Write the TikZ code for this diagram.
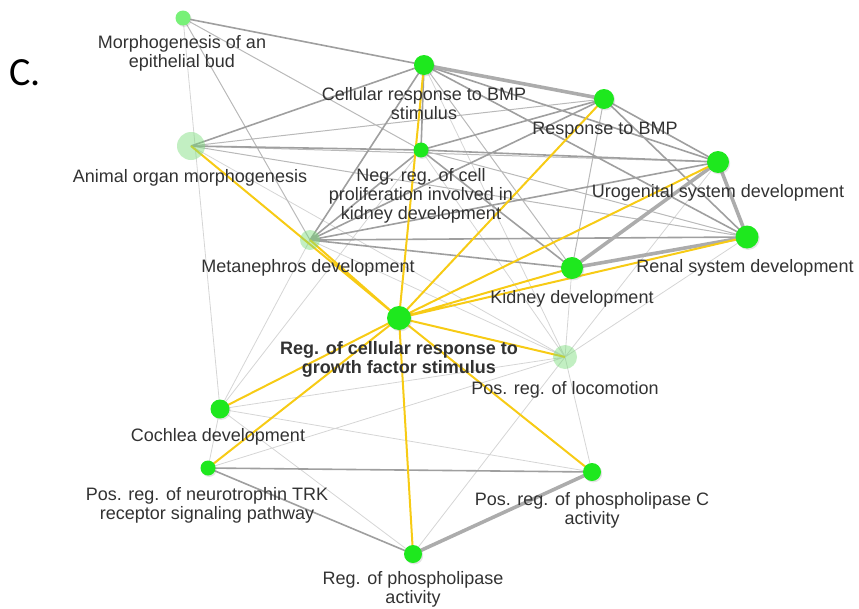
\documentclass[tikz,border=0pt]{standalone}
\usepackage{fontspec}
\setmainfont{Liberation Sans}
\newfontfamily\panelfont{Carlito}
\usepackage{xcolor}
\usetikzlibrary{backgrounds, shadows}

\definecolor{termgreen}{RGB}{30,232,30}
\definecolor{palegreen}{RGB}{120,220,120}
\definecolor{linkyellow}{RGB}{247,203,21}
\definecolor{labelgray}{RGB}{50,50,50}

\begin{document}
\begin{tikzpicture}[x=1pt, y=-1pt,
  term/.style={circle, fill=termgreen, inner sep=0pt,
    drop shadow={opacity=0.22, shadow xshift=1.2pt, shadow yshift=-1.4pt}},
  faded/.style={circle, fill=palegreen, fill opacity=0.45, inner sep=0pt},
  lbl/.style={align=center, text=labelgray, inner sep=0pt,
    font=\fontsize{18}{19}\selectfont},
  yedge/.style={draw=linkyellow, line width=2pt},
  tedge/.style={draw=gray!65, line width=3.6pt},
  medge/.style={draw=gray!75, line width=1.6pt},
  sedge/.style={draw=gray!55, line width=1pt},
  fedge/.style={draw=gray!33, line width=0.8pt}]
  \useasboundingbox (0,0) rectangle (859,608);

  %% panel letter
  \node[font=\panelfont\fontsize{40}{40}\selectfont, anchor=base west, inner sep=0pt]
    (panel) at (9,85) {C.};

  %% terms
  \node[term, fill=termgreen!60, minimum size=15pt] (meb) at (183,18) {};
  \node[term, minimum size=20pt] (crb) at (424,65) {};
  \node[term, minimum size=20pt] (rbmp) at (604,99) {};
  \node[faded, minimum size=28pt] (aom) at (191,146) {};
  \node[term, minimum size=15pt] (neg) at (421,150) {};
  \node[term, minimum size=22pt] (ugs) at (718,162) {};
  \node[faded, minimum size=20pt] (met) at (310,240) {};
  \node[term, minimum size=23pt] (rsd) at (747,237) {};
  \node[term, minimum size=22pt] (kid) at (572,268) {};
  \node[term, minimum size=24pt] (reg) at (399,318) {};
  \node[faded, minimum size=24pt] (loc) at (565,357) {};
  \node[term, minimum size=19pt] (coc) at (220,409) {};
  \node[term, minimum size=15pt] (trk) at (208,468) {};
  \node[term, minimum size=18pt] (plc) at (592,472) {};
  \node[term, minimum size=18pt] (rpa) at (413,554) {};

  %% links, under the terms
  \begin{pgfonlayer}{background}
    \draw[fedge] (meb.center) -- (coc.center) (met.center) -- (coc.center)
      (neg.center) -- (coc.center) (coc.center) -- (loc.center)
      (coc.center) -- (plc.center) (coc.center) -- (rpa.center)
      (coc.center) -- (trk.center) (trk.center) -- (loc.center)
      (loc.center) -- (kid.center) (loc.center) -- (crb.center)
      (loc.center) -- (neg.center) (loc.center) -- (ugs.center)
      (loc.center) -- (rsd.center) (loc.center) -- (plc.center)
      (loc.center) -- (rpa.center) (loc.center) -- (met.center)
      (loc.center) -- (aom.center);
    \draw[sedge] (meb.center) -- (neg.center) (meb.center) -- (met.center)
      (aom.center) -- (ugs.center) (aom.center) -- (rsd.center)
      (aom.center) -- (rbmp.center) (crb.center) -- (kid.center)
      (rbmp.center) -- (kid.center) (neg.center) -- (rsd.center);
    \draw[medge] (meb.center) -- (crb.center) (trk.center) -- (rpa.center)
      (trk.center) -- (plc.center) (aom.center) -- (crb.center)
      (aom.center) -- (neg.center) (met.center) -- (crb.center)
      (met.center) -- (neg.center) (met.center) -- (rbmp.center)
      (met.center) -- (ugs.center) (met.center) -- (rsd.center)
      (met.center) -- (kid.center) (crb.center) -- (neg.center)
      (crb.center) -- (ugs.center) (crb.center) -- (rsd.center)
      (neg.center) -- (rbmp.center) (neg.center) -- (ugs.center)
      (neg.center) -- (kid.center) (rbmp.center) -- (ugs.center)
      (rbmp.center) -- (rsd.center);
    \draw[tedge] (crb.center) -- (rbmp.center) (ugs.center) -- (rsd.center)
      (kid.center) -- (ugs.center) (kid.center) -- (rsd.center)
      (rpa.center) -- (plc.center);
    \draw[yedge] (reg.center) -- (aom.center) (reg.center) -- (met.center)
      (reg.center) -- (crb.center) (reg.center) -- (rbmp.center)
      (reg.center) -- (ugs.center) (reg.center) -- (rsd.center)
      (reg.center) -- (kid.center) (reg.center) -- (loc.center)
      (reg.center) -- (plc.center) (reg.center) -- (rpa.center)
      (reg.center) -- (coc.center) (reg.center) -- (trk.center);
  \end{pgfonlayer}

  %% term names
  \node[lbl] (meb-t) at (182,53) {Morphogenesis of an\\epithelial bud};
  \node[lbl] (crb-t) at (424,104) {Cellular response to BMP\\stimulus};
  \node[lbl] (rbmp-t) at (605,130) {Response to BMP};
  \node[lbl] (aom-t) at (190,178) {Animal organ morphogenesis};
  \node[lbl] (neg-t) at (421,196) {Neg. reg. of cell\\proliferation involved in\\kidney development};
  \node[lbl] (ugs-t) at (718,193) {Urogenital system development};
  \node[lbl] (met-t) at (308,268) {Metanephros development};
  \node[lbl] (rsd-t) at (745,268) {Renal system development};
  \node[lbl] (kid-t) at (572,299) {Kidney development};
  \node[lbl, font=\fontsize{18}{19}\selectfont\bfseries] (reg-t) at (399,359)
    {Reg. of cellular response to\\growth factor stimulus};
  \node[lbl] (loc-t) at (565,390) {Pos. reg. of locomotion};
  \node[lbl] (coc-t) at (218,437) {Cochlea development};
  \node[lbl] (trk-t) at (207,505) {Pos. reg. of neurotrophin TRK\\receptor signaling pathway};
  \node[lbl] (plc-t) at (592,510) {Pos. reg. of phospholipase C\\activity};
  \node[lbl] (rpa-t) at (413,589) {Reg. of phospholipase\\activity};
\end{tikzpicture}
\end{document}
